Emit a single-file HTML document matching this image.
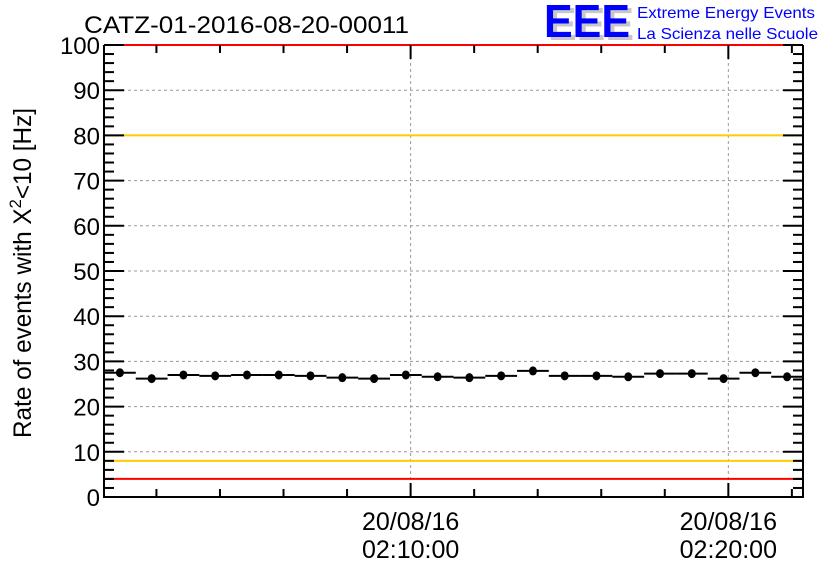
<!DOCTYPE html>
<html><head><meta charset="utf-8"><style>
body{margin:0;background:#fff;}
svg text{font-family:"Liberation Sans",sans-serif;}
</style></head><body>
<svg id="chart" width="836" height="572" xmlns="http://www.w3.org/2000/svg">
<rect width="836" height="572" fill="#fff"/>
<text x="84" y="33" font-size="24" textLength="325" lengthAdjust="spacingAndGlyphs">CATZ-01-2016-08-20-00011</text>
<g>
<text x="548" y="40" font-size="46" font-weight="bold" fill="#c8c8c8" textLength="86" lengthAdjust="spacingAndGlyphs">EEE</text>
<text x="544" y="37" font-size="46" font-weight="bold" fill="#0000ff" textLength="86" lengthAdjust="spacingAndGlyphs">EEE</text>
<text x="637" y="18" font-size="16" fill="#0000ff" textLength="178" lengthAdjust="spacingAndGlyphs">Extreme Energy Events</text>
<text x="637" y="39" font-size="16" fill="#0000ff" textLength="181" lengthAdjust="spacingAndGlyphs">La Scienza nelle Scuole</text>
</g>
<text transform="translate(31,438) rotate(-90)" font-size="25" textLength="330" lengthAdjust="spacingAndGlyphs">Rate of events with X<tspan dy="-10" font-size="17">2</tspan><tspan dy="10">&lt;10 [Hz]</tspan></text>
<g id="plot"></g>
</svg>
<script>
const binCount = 22;
const values = [27.5,26.2,27.0,26.8,27.0,27.0,26.8,26.4,26.2,27.0,26.6,26.4,26.8,27.9,26.8,26.8,26.6,27.3,27.3,26.2,27.5,26.6];
const yTicks = [0,10,20,30,40,50,60,70,80,90,100];
const xMajorMinutes = [9.65,19.65];
const xMajorLabels = [["20/08/16","02:10:00"],["20/08/16","02:20:00"]];
const redLevels = [4,100];
const orangeLevels = [8,80];

const L=104,R=803,T=45,B=497;
const xs = m => L + m*(R-L)/binCount;
const ys = v => B - v*(B-T)/100;
const g=document.getElementById('plot');
const NS='http://www.w3.org/2000/svg';
function mk(t,a){const e=document.createElementNS(NS,t);for(const k in a)e.setAttribute(k,a[k]);g.appendChild(e);return e;}

yTicks.forEach(v=>{if(v>0&&v<100){const e=mk('line',{x1:L,x2:R,y1:ys(v),y2:ys(v),stroke:'#999','stroke-dasharray':'3,3'});

}});
xMajorMinutes.forEach(m=>{const e=mk('line',{x1:xs(m),x2:xs(m),y1:T,y2:B,stroke:'#999','stroke-dasharray':'3,3'});

});
orangeLevels.forEach(v=>{const e=mk('line',{x1:L,x2:R,y1:ys(v),y2:ys(v),stroke:'#ffcc00','stroke-width':2});

});
redLevels.forEach(v=>{const e=mk('line',{x1:L,x2:R,y1:ys(v),y2:ys(v),stroke:'#ff0000','stroke-width':2});

});
const fr=mk('path',{d:`M${L},${T}V${B}H${R}V${T}`,fill:'none',stroke:'#000','stroke-width':2});


for(let v=0;v<=100;v+=2){const len=v%10===0?20:10;
mk('line',{x1:L,x2:L+len,y1:ys(v),y2:ys(v),stroke:'#000','stroke-width':2});
mk('line',{x1:R,x2:R-len,y1:ys(v),y2:ys(v),stroke:'#000','stroke-width':2});}
yTicks.forEach(v=>{const t=mk('text',{x:L-4,y:ys(v)+9,'text-anchor':'end','font-size':24});t.textContent=v;

});
for(let m=xMajorMinutes[0]-8;m<=binCount;m+=2){if(m<0)continue;const maj=xMajorMinutes.some(x=>Math.abs(x-m)<0.01);const len=maj?14:8;
mk('line',{x1:xs(m),x2:xs(m),y1:B,y2:B-len,stroke:'#000','stroke-width':2});
mk('line',{x1:xs(m),x2:xs(m),y1:T,y2:T+len,stroke:'#000','stroke-width':2});}
xMajorMinutes.forEach((m,i)=>{[0,1].forEach(j=>{const t=mk('text',{x:xs(m),y:530+j*28,'text-anchor':'middle','font-size':25});t.textContent=xMajorLabels[i][j];

});});
values.forEach((v,i)=>{
const h=mk('line',{x1:xs(i),x2:xs(i+1),y1:ys(v),y2:ys(v),stroke:'#000','stroke-width':2});


const c=mk('ellipse',{cx:xs(i+0.5),cy:ys(v),rx:4,ry:4.5,fill:'#000'});

});
</script>
</body></html>
